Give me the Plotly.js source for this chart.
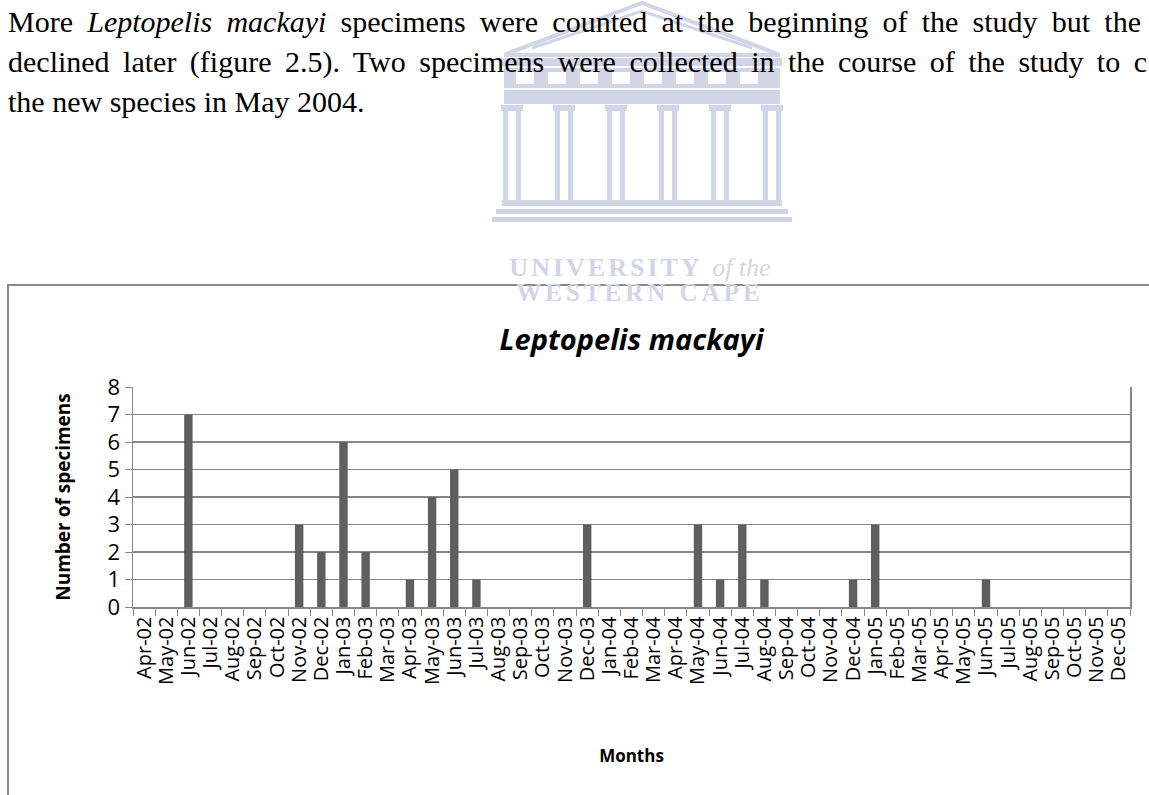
<!DOCTYPE html>
<html>
<head>
<meta charset="utf-8">
<script src="https://cdn.plot.ly/plotly-3.0.1.min.js"></script>
<style>
  html, body { margin: 0; padding: 0; background: #ffffff; overflow: hidden; }
  #page { position: relative; width: 1149px; height: 795px; overflow: hidden; }
  #chart { position: absolute; left: 0; top: 0; width: 1149px; height: 795px; }
  .para { position: absolute; left: 8px; height: 40px; line-height: 40px;
          font-family: "Liberation Serif", "Times New Roman", serif; font-size: 30px; color: #000;
          white-space: normal; z-index: 10; pointer-events: none; }
  .just { text-align: justify; text-align-last: justify; }
  .wm { position: absolute; z-index: 5; pointer-events: none; text-align: center;
        font-family: "Liberation Serif", serif; color: #d2d5e7; line-height: 22px; height: 22px; }
</style>
</head>
<body>
<div id="page">
  <div id="chart"></div>
  <div id="para"></div>
  <div class="wm" style="left:440px; width:400px; top:257px; font-size:26px; letter-spacing:3px;"><b>UNIVERSITY</b> <i style="letter-spacing:0">of the</i></div>
  <div class="wm" style="left:440px; width:400px; top:282px; font-size:25px; letter-spacing:4px;"><b>WESTERN CAPE</b></div>
</div>
<script>
// ---- data ----
const months = [
  "Apr-02","May-02","Jun-02","Jul-02","Aug-02","Sep-02","Oct-02","Nov-02","Dec-02",
  "Jan-03","Feb-03","Mar-03","Apr-03","May-03","Jun-03","Jul-03","Aug-03","Sep-03","Oct-03","Nov-03","Dec-03",
  "Jan-04","Feb-04","Mar-04","Apr-04","May-04","Jun-04","Jul-04","Aug-04","Sep-04","Oct-04","Nov-04","Dec-04",
  "Jan-05","Feb-05","Mar-05","Apr-05","May-05","Jun-05","Jul-05","Aug-05","Sep-05","Oct-05","Nov-05","Dec-05"
];
const specimens = [
  0,0,7,0,0,0,0,3,2,
  6,2,0,1,4,5,1,0,0,0,0,3,
  0,0,0,0,3,1,3,1,0,0,0,1,
  3,0,0,0,0,1,0,0,0,0,0,0
];
const yTicks = [0,1,2,3,4,5,6,7,8];
const chartTitle = "Leptopelis mackayi";
const xTitle = "Months";
const yTitle = "Number of specimens";
const paragraphLines = [
  "More <i>Leptopelis mackayi</i> specimens were counted at the beginning of the study but the",
  "declined later (figure 2.5). Two specimens were collected in the course of the study to c",
  "the new species in May 2004."
];
const paragraphWidths = [1133, 1139, null];

// ---- paragraph (HTML text, justified like the source page) ----
const paraBox = document.getElementById('para');
paragraphLines.forEach((t, i) => {
  const d = document.createElement('div');
  d.className = 'para' + (paragraphWidths[i] ? ' just' : '');
  d.style.top = (2 + i * 40) + 'px';
  if (paragraphWidths[i]) d.style.width = paragraphWidths[i] + 'px';
  d.innerHTML = t;
  paraBox.appendChild(d);
});

// ---- pixel helpers (plot area: x 133..1130, y 387..607) ----
const L = 133, R = 1130, T = 387, B = 607;
const X = px => (px - L) / (R - L);
const Y = py => (B - py) / (B - T);

const wm = '#d2d5e7';
const shapes = [];
// chart outer box
shapes.push({type:'rect', xref:'paper', yref:'paper', x0:X(8), x1:X(1165), y0:Y(285), y1:Y(805),
  line:{color:'#8a8a8a', width:2}, fillcolor:'rgba(0,0,0,0)', layer:'below'});

// watermark building
function rect(x0,y0,x1,y1,fill){ shapes.push({type:'rect', xref:'paper', yref:'paper',
  x0:X(x0), x1:X(x1), y0:Y(y1), y1:Y(y0), line:{width:0}, fillcolor:fill, layer:'below'}); }
function path(pts, w){ shapes.push({type:'path', xref:'paper', yref:'paper',
  path: 'M' + pts.map(p => X(p[0]) + ',' + Y(p[1])).join(' L') ,
  line:{color:wm, width:w}, layer:'below'}); }
const cx = 642;
path([[cx-136,54],[cx,3],[cx+136,54]], 4);
path([[cx-110,48],[cx,11],[cx+110,48]], 3);
path([[cx-138,55],[cx+138,55]], 4);
rect(cx-140,58,cx+140,66,wm);
rect(cx-138,68,cx+138,88,wm);
for (let i=0;i<8;i++){ const x0 = cx-126 + i*32; rect(x0,72,x0+18,84,'#ffffff'); }
rect(cx-138,90,cx+138,104,wm);
for (let i=0;i<6;i++){
  const c = cx-130 + i*52;
  rect(c-11,105,c+11,111,wm);
  rect(c-9,111,c-4,200,wm);
  rect(c+4,111,c+9,200,wm);
}
rect(cx-140,200,cx+140,206,wm);
rect(cx-146,209,cx+146,214,wm);
rect(cx-150,217,cx+150,222,wm);

const trace = {
  type:'bar', x: months, y: specimens,
  marker:{color:'#5f5f5f', line:{width:0}},
  hoverinfo:'x+y'
};

const layout = {
  width:1149, height:795,
  margin:{l:L, r:1149-R, t:T, b:795-B, pad:0},
  paper_bgcolor:'#ffffff', plot_bgcolor:'#ffffff',
  font:{family:'Open Sans', color:'#000000'},
  showlegend:false,
  bargap:0.62,
  title:{text:'<b><i>' + chartTitle + '</i></b>', xref:'paper', x:0.5, xanchor:'center',
         yref:'container', y:1-340/795, yanchor:'middle', font:{family:'Open Sans', size:29, color:'#000000'}},
  xaxis:{type:'category', categoryorder:'array', categoryarray:months,
    tickmode:'linear', tick0:0, dtick:1,
    tickangle:-90, tickfont:{size:20, color:'#000000'},
    ticks:'outside', tickson:'boundaries', ticklen:7, tickcolor:'#878787', tickwidth:1,
    showline:true, linecolor:'#878787', linewidth:1.5, showgrid:false, automargin:false,
    title:{text:'<b>' + xTitle + '</b>', font:{size:17, color:'#000000'}, standoff:66}},
  yaxis:{range:[0,8], tickvals:yTicks, tickfont:{size:22, color:'#000000'},
    ticks:'outside', ticklen:7, tickcolor:'#878787', tickwidth:1,
    showline:true, mirror:true, linecolor:'#878787', linewidth:1.5,
    showgrid:true, gridcolor:'#878787', gridwidth:1.5, zeroline:false, automargin:false,
    title:{text:'<b>' + yTitle + '</b>', font:{size:19, color:'#000000'}, standoff:32}},
  shapes:shapes
};

Plotly.newPlot('chart', [trace], layout, {displayModeBar:false, staticPlot:true});
</script>
</body>
</html>
